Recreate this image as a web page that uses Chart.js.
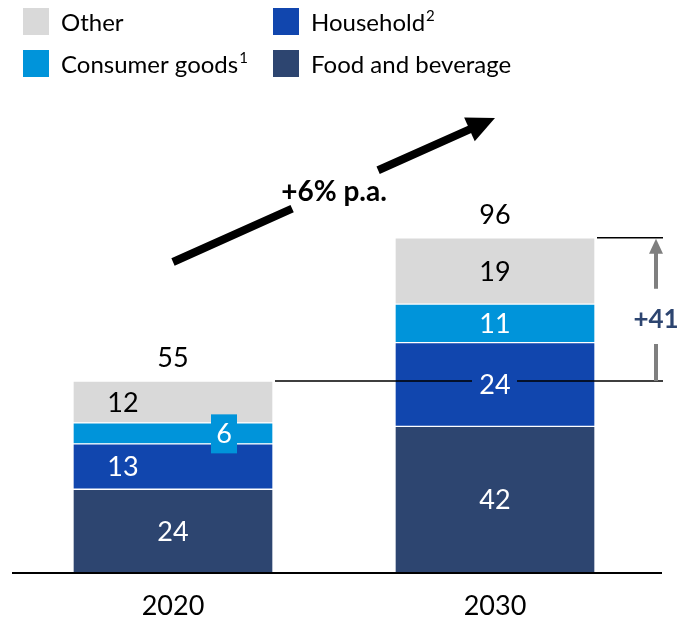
<!DOCTYPE html>
<html>
<head>
<meta charset="utf-8">
<script src="https://cdn.jsdelivr.net/npm/chart.js@4/dist/chart.umd.min.js"></script>
<style>
  body { margin: 0; background: #fff; }
  #wrap { width: 682px; height: 618px; }
</style>
</head>
<body>
<div id="wrap"><canvas id="marketChart" width="682" height="618"></canvas></div>
<script>
// market size by segment, bottom to top of each stack
var years = ['2020', '2030'];
var foodBeverage = [24, 42];
var household = [13, 24];
var consumerGoods = [6, 11];
var other = [12, 19];
var totals = [55, 96];
var growthLabel = '+6% p.a.';
var deltaLabel = '+41';

var FONT = 'Lato, "Open Sans", sans-serif';
var colors = {
    food: '#2D4570',
    household: '#1146AE',
    consumer: '#0094DA',
    other: '#D9D9D9'
};

// legend drawn as a 2x2 grid: [dataset index, superscript]
var legendGrid = [
    [{ ds: 3, sup: '' }, { ds: 1, sup: '2' }],
    [{ ds: 2, sup: '1' }, { ds: 0, sup: '' }]
];

function arrowHead(ctx, x, y, angle, len, half) {
    ctx.beginPath();
    ctx.moveTo(x, y);
    ctx.lineTo(x - len * Math.cos(angle) + half * Math.sin(angle), y - len * Math.sin(angle) - half * Math.cos(angle));
    ctx.lineTo(x - len * Math.cos(angle) - half * Math.sin(angle), y - len * Math.sin(angle) + half * Math.cos(angle));
    ctx.closePath();
    ctx.fill();
}

var decorPlugin = {
    id: 'decor',
    afterDatasetsDraw: function(chart) {
        var ctx = chart.ctx;
        var xs = chart.scales.x;
        var ys = chart.scales.y;
        var area = chart.chartArea;
        ctx.save();

        // baseline
        ctx.strokeStyle = '#000';
        ctx.lineWidth = 2;
        ctx.beginPath();
        ctx.moveTo(area.left, ys.getPixelForValue(0));
        ctx.lineTo(area.right + 6, ys.getPixelForValue(0));
        ctx.stroke();

        // segment labels
        ctx.textAlign = 'center';
        ctx.textBaseline = 'middle';
        ctx.font = '27px ' + FONT;
        chart.data.datasets.forEach(function(ds, di) {
            var meta = chart.getDatasetMeta(di);
            meta.data.forEach(function(bar, i) {
                var cy = (bar.y + bar.base) / 2;
                var cx = bar.x;
                if (i === 0 && (di === 1 || di === 3)) cx = bar.x - 50;
                if (i === 0 && di === 2) {
                    // thin slice: value sits on its own tag
                    cx = bar.x + 51;
                    ctx.fillStyle = colors.consumer;
                    ctx.fillRect(cx - 13, cy - 19, 26, 39);
                }
                ctx.fillStyle = di === 3 ? '#000' : '#fff';
                ctx.fillText(String(ds.data[i]), cx, cy + 1);
            });
        });

        // totals and year labels
        ctx.fillStyle = '#000';
        totals.forEach(function(t, i) {
            var x = xs.getPixelForValue(i);
            ctx.fillText(String(t), x, ys.getPixelForValue(t) - 23);
            ctx.fillText(years[i], x, 606);
        });

        // growth arrow with a break for the CAGR text
        var x0 = xs.getPixelForValue(0), y0 = 262;
        var x1 = xs.getPixelForValue(1), y1 = 118;
        var ang = Math.atan2(y1 - y0, x1 - x0);
        function pt(t) { return [x0 + (x1 - x0) * t, y0 + (y1 - y0) * t]; }
        ctx.strokeStyle = '#000';
        ctx.fillStyle = '#000';
        ctx.lineWidth = 8;
        ctx.lineCap = 'butt';
        var a = pt(0), b = pt(0.37), c = pt(0.637), d = pt(0.93);
        ctx.beginPath();
        ctx.moveTo(a[0], a[1]); ctx.lineTo(b[0], b[1]);
        ctx.moveTo(c[0], c[1]); ctx.lineTo(d[0], d[1]);
        ctx.stroke();
        arrowHead(ctx, x1, y1, ang, 28, 13);
        ctx.font = 'bold 28px ' + FONT;
        ctx.fillText(growthLabel, 334, 192);

        // difference bracket between the two totals
        var yLow = ys.getPixelForValue(totals[0]);
        var yHigh = ys.getPixelForValue(totals[1]);
        var bar2020 = chart.getDatasetMeta(3).data[0];
        var bar2030 = chart.getDatasetMeta(3).data[1];
        var bx = 656;
        ctx.lineWidth = 1.5;
        ctx.beginPath();
        ctx.moveTo(bar2020.x + bar2020.width / 2 + 2, yLow);
        ctx.lineTo(bar2030.x - 23, yLow);
        ctx.moveTo(bar2030.x + 22, yLow);
        ctx.lineTo(bx + 7, yLow);
        ctx.moveTo(bar2030.x + bar2030.width / 2 + 2, yHigh);
        ctx.lineTo(bx + 7, yHigh);
        ctx.stroke();

        ctx.strokeStyle = '#7F7F7F';
        ctx.fillStyle = '#7F7F7F';
        ctx.lineWidth = 4;
        ctx.beginPath();
        ctx.moveTo(bx, yLow);
        ctx.lineTo(bx, yLow - 37);
        ctx.moveTo(bx, yHigh + 51);
        ctx.lineTo(bx, yHigh + 14);
        ctx.stroke();
        arrowHead(ctx, bx, yHigh + 1, -Math.PI / 2, 15, 7);
        ctx.fillStyle = '#2D4570';
        ctx.font = 'bold 26px ' + FONT;
        ctx.fillText(deltaLabel, bx, (yLow + yHigh) / 2 + 10);

        // legend
        ctx.textAlign = 'left';
        legendGrid.forEach(function(row, r) {
            row.forEach(function(item, c) {
                var ds = chart.data.datasets[item.ds];
                var sx = c === 0 ? 23 : 273;
                var sy = r === 0 ? 8 : 50;
                ctx.fillStyle = ds.backgroundColor;
                ctx.fillRect(sx, sy, 26, 27);
                ctx.fillStyle = '#000';
                ctx.font = '24px ' + FONT;
                ctx.fillText(ds.label, sx + 38, sy + 15);
                if (item.sup) {
                    var w = ctx.measureText(ds.label).width;
                    ctx.font = '15px ' + FONT;
                    ctx.fillText(item.sup, sx + 39 + w, sy + 8);
                }
            });
        });

        ctx.restore();
    }
};

function makeSet(label, data, color) {
    return {
        label: label,
        data: data,
        backgroundColor: color,
        borderColor: '#fff',
        borderWidth: 1,
        borderSkipped: false,
        barThickness: 200
    };
}

new Chart(document.getElementById('marketChart'), {
    type: 'bar',
    data: {
        labels: years,
        datasets: [
            makeSet('Food and beverage', foodBeverage, colors.food),
            makeSet('Household', household, colors.household),
            makeSet('Consumer goods', consumerGoods, colors.consumer),
            makeSet('Other', other, colors.other)
        ]
    },
    options: {
        responsive: false,
        animation: false,
        layout: { padding: { left: 12, right: 26, top: 189, bottom: 45 } },
        plugins: {
            legend: { display: false },
            tooltip: { enabled: false }
        },
        scales: {
            x: { stacked: true, display: false },
            y: { stacked: true, display: false, min: 0, max: 110 }
        }
    },
    plugins: [decorPlugin]
});
</script>
</body>
</html>
